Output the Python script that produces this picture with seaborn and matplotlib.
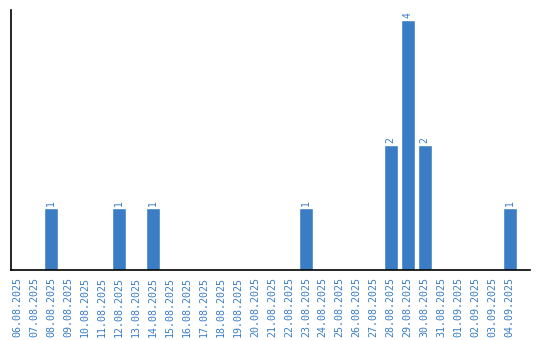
import matplotlib
matplotlib.use("Agg")
import matplotlib.pyplot as plt
import seaborn as sns
import pandas as pd

dates = ["06.08.2025", "07.08.2025", "08.08.2025", "09.08.2025", "10.08.2025",
         "11.08.2025", "12.08.2025", "13.08.2025", "14.08.2025", "15.08.2025",
         "16.08.2025", "17.08.2025", "18.08.2025", "19.08.2025", "20.08.2025",
         "21.08.2025", "22.08.2025", "23.08.2025", "24.08.2025", "25.08.2025",
         "26.08.2025", "27.08.2025", "28.08.2025", "29.08.2025", "30.08.2025",
         "31.08.2025", "01.09.2025", "02.09.2025", "03.09.2025", "04.09.2025"]
counts = [0, 0, 1, 0, 0, 0, 1, 0, 1, 0,
          0, 0, 0, 0, 0, 0, 0, 1, 0, 0,
          0, 0, 2, 4, 2, 0, 0, 0, 0, 1]

color = "#3b7dc4"
df = pd.DataFrame({"date": dates, "count": counts})

sns.set_style("white")
plt.rcParams['font.family'] = ['DejaVu Sans Mono', 'DejaVu Sans']

fig = plt.figure(figsize=(5.4, 3.4), dpi=100)
ax = fig.add_axes([11/540, 70/340, 519/540, 260/340])
sns.barplot(data=df, x="date", y="count", color=color, width=0.82,
            saturation=1, ax=ax)

for i, v in enumerate(counts):
    if v > 0:
        ax.text(i, v + 0.03, str(v), rotation=90, ha="center", va="bottom",
                color=color, fontsize=7)

ax.set_xlim(-0.35, 30.2)
ax.set_ylim(0, 4.16)
ax.set_yticks([])
ax.set_xlabel("")
ax.set_ylabel("")
ax.tick_params(axis="x", rotation=90, labelsize=7.2, labelcolor=color, length=0, pad=5)
for s in ["top", "right"]:
    ax.spines[s].set_visible(False)
for s in ["left", "bottom"]:
    ax.spines[s].set_color("black")
    ax.spines[s].set_linewidth(1.2)

fig.savefig("out.png", dpi=100)
